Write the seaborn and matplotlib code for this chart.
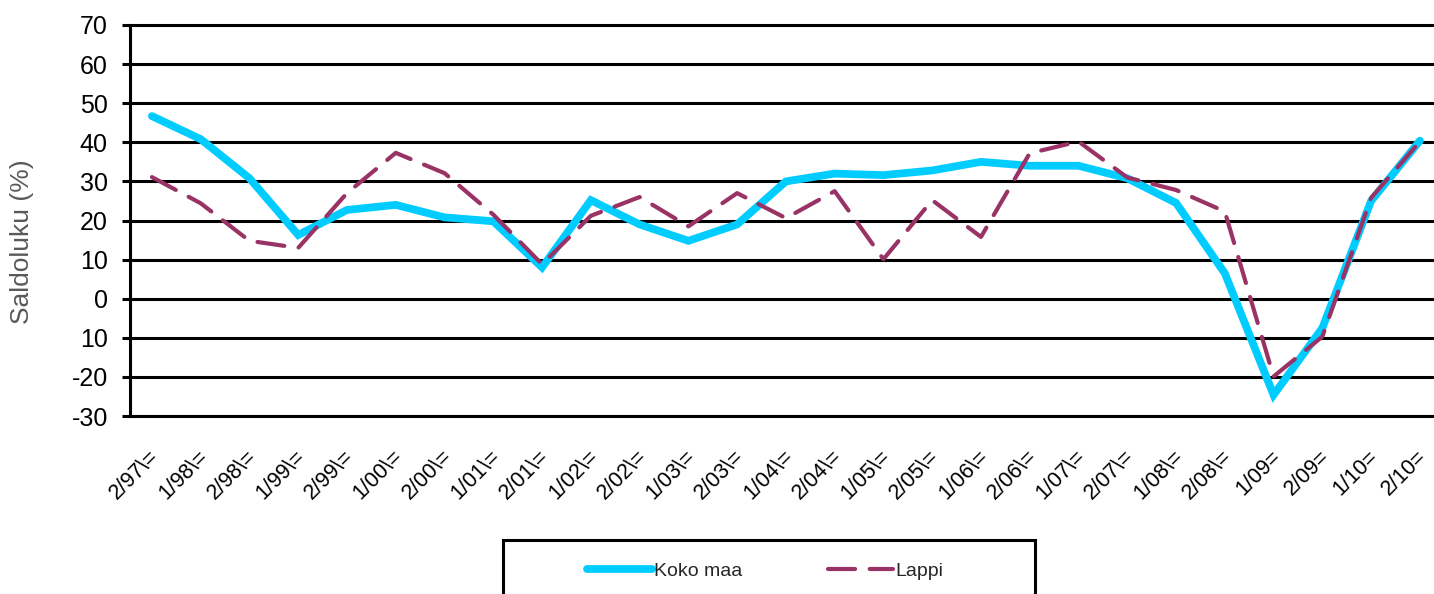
import numpy as np
import pandas as pd
import matplotlib
matplotlib.use("Agg")
import matplotlib.pyplot as plt
import matplotlib.transforms as mtransforms
from matplotlib.patches import Rectangle
import seaborn as sns

# half-year periods on the x axis
periods = ["2/97\\=", "1/98\\=", "2/98\\=", "1/99\\=", "2/99\\=", "1/00\\=", "2/00\\=",
           "1/01\\=", "2/01\\=", "1/02\\=", "2/02\\=", "1/03\\=", "2/03\\=", "1/04\\=",
           "2/04\\=", "1/05\\=", "2/05\\=", "1/06\\=", "2/06\\=", "1/07\\=", "2/07\\=",
           "1/08\\=", "2/08\\=", "1/09=", "2/09=", "1/10=", "2/10="]

koko_maa = [46.7, 40.8, 30.8, 16.3, 22.7, 24.0, 20.8, 19.8, 8.0, 25.2, 19.0, 14.8,
            19.0, 30.0, 32.0, 31.6, 32.8, 35.0, 34.0, 34.0, 30.8, 24.5, 6.5, -24.6,
            -7.5, 25.0, 40.4]
lappi = [31.1, 24.4, 14.8, 13.0, 27.0, 37.3, 32.1, 21.5, 8.8, 21.2, 26.0, 18.5,
         27.0, 20.6, 27.5, 10.1, 25.2, 15.8, 37.2, 40.2, 31.0, 27.8, 22.3, -19.9,
         -9.7, 25.8, 40.2]

yticks = [70, 60, 50, 40, 30, 20, 10, 0, -10, -20, -30]
ytick_labels = ["70", "60", "50", "40", "30", "20", "10", "0", "10", "-20", "-30"]

series_names = ["Koko maa", "Lappi"]
colors = {"Koko maa": "#00CCFF", "Lappi": "#993366"}


def build_frame():
    idx = np.arange(len(periods))
    df = pd.concat([
        pd.DataFrame({"idx": idx, "value": koko_maa, "series": "Koko maa"}),
        pd.DataFrame({"idx": idx, "value": lappi, "series": "Lappi"}),
    ], ignore_index=True)
    return df


def main():
    sns.set_theme(style="white")
    plt.rcParams["font.family"] = ["Liberation Sans", "DejaVu Sans"]

    df = build_frame()

    fig = plt.figure(figsize=(14.34, 5.94), dpi=100)
    ax = fig.add_axes([130 / 1434, 1 - 416 / 594, 1 - 130 / 1434, (416 - 25) / 594])

    sns.lineplot(data=df, x="idx", y="value", hue="series", style="series",
                 size="series", hue_order=series_names, style_order=series_names,
                 size_order=series_names, palette=colors,
                 dashes={"Koko maa": "", "Lappi": (6.5, 3.5)},
                 sizes={"Koko maa": 5.6, "Lappi": 3.0},
                 sort=False, legend=False, ax=ax)
    for ln in ax.lines:
        ln.set_solid_capstyle("round")
        ln.set_dash_capstyle("round")
        ln.set_solid_joinstyle("miter")

    ax.set_xlim(-0.45, 26.29)
    ax.set_ylim(-30, 70)
    ax.set_yticks(yticks)
    ax.set_yticklabels(ytick_labels, fontsize=18, color="black")
    ax.set_xticks(range(len(periods)))
    ax.set_xticklabels(periods, rotation=45, ha="right", va="center",
                       rotation_mode="anchor", fontsize=15.5, color="black")
    ax.tick_params(axis="x", length=0, pad=27)
    ax.tick_params(axis="y", left=True, length=6, width=2.2, color="black", pad=10)

    # nudge the slanted labels a little to the right
    shift = mtransforms.ScaledTranslation(4 / 100, 0, fig.dpi_scale_trans)
    for lab in ax.get_xticklabels():
        lab.set_transform(lab.get_transform() + shift)

    ax.grid(axis="y", color="black", linewidth=2.2)
    ax.grid(axis="x", visible=False)
    ax.set_axisbelow(True)
    for side in ["left", "top", "bottom"]:
        ax.spines[side].set_visible(True)
        ax.spines[side].set_color("black")
        ax.spines[side].set_linewidth(2.2)
    ax.spines["right"].set_visible(False)

    ax.set_xlabel("")
    ax.set_ylabel("")
    fig.text(22 / 1434, 1 - 242 / 594, "Saldoluku (%)", rotation=90,
             ha="center", va="center", fontsize=19, color="#595959")

    # legend box, partly cut off at the bottom like in the original
    fig.patches.append(Rectangle((503 / 1434, -0.05), (1035 - 503) / 1434,
                                 1 - 540 / 594 + 0.05, transform=fig.transFigure,
                                 fill=False, edgecolor="black", linewidth=2.2))
    fig.legend(handles=ax.lines[:2], labels=series_names, loc="center",
               bbox_to_anchor=(765 / 1434, 1 - 571 / 594), ncol=2, frameon=False,
               fontsize=14, handlelength=3.35, handletextpad=0.1, columnspacing=4.4)

    fig.savefig("out.png", dpi=100)


if __name__ == "__main__":
    main()
